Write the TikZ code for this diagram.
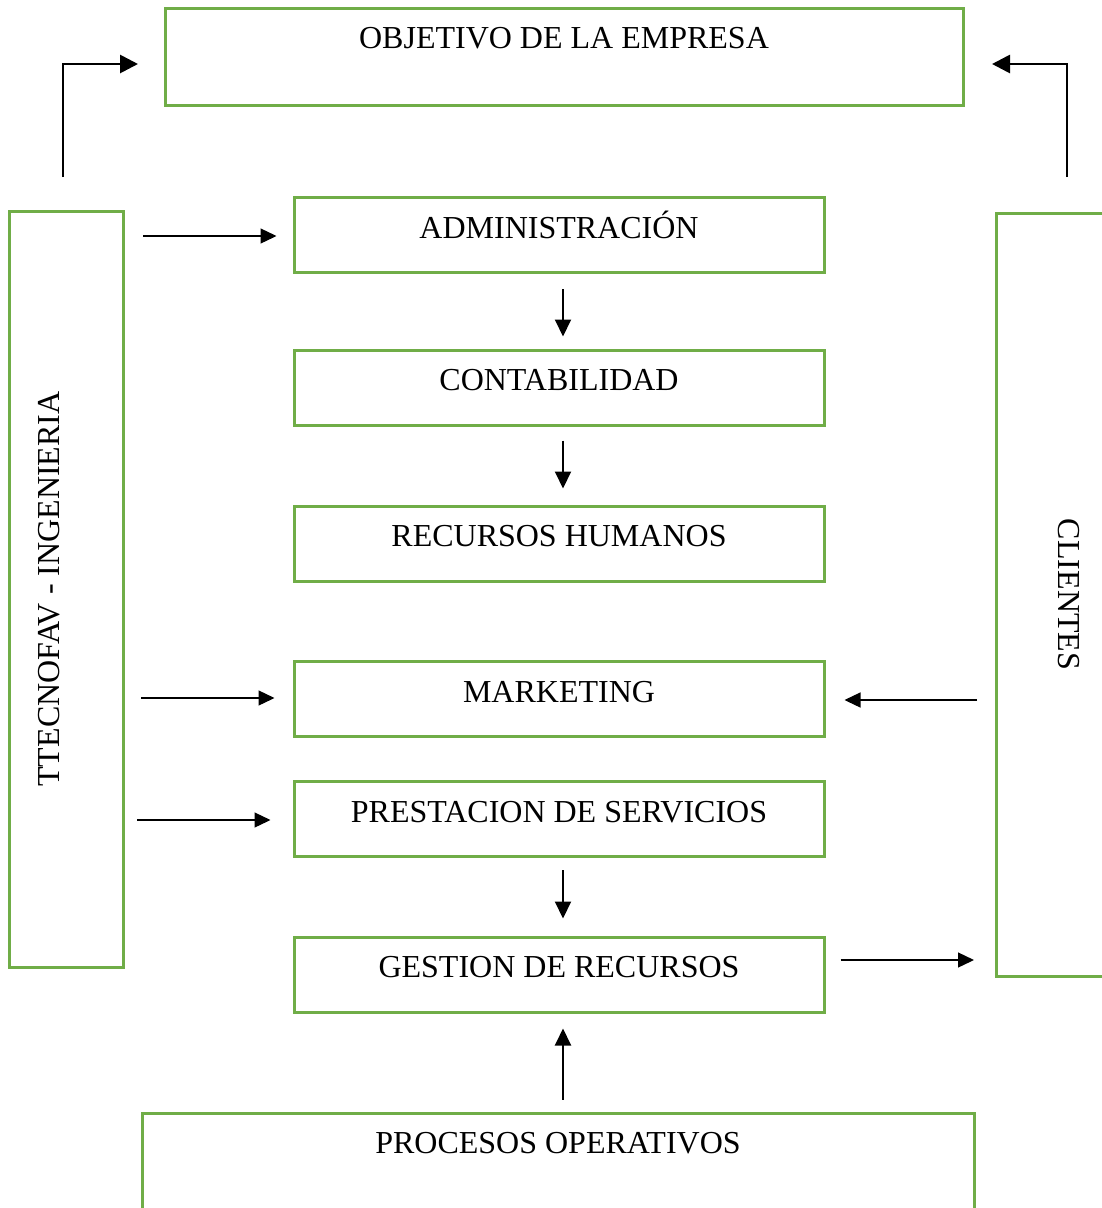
\documentclass[tikz,border=0pt]{standalone}
\usepackage{fontspec}
\setmainfont{Liberation Serif}
\usetikzlibrary{arrows.meta}
\definecolor{boxgreen}{RGB}{112,173,71}
\tikzset{
  area/.style={draw=boxgreen, line width=3pt, inner sep=0pt, text height=40.5pt, font=\fontsize{32}{38}\selectfont},
  dept/.style={area, minimum width=530pt, text depth=34.5pt},
  side/.style={area, minimum width=756pt},
  feed/.style={-{Triangle[length=16pt,width=15pt]}, line width=1.3pt},
  down/.style={-{Triangle[length=17pt,width=16pt]}, line width=2pt},
  elbow/.style={-{Triangle[length=18pt,width=18pt]}, line width=2.8pt}
}
\begin{document}
\begin{tikzpicture}[x=1pt, y=-1pt]
  \clip (0,0) rectangle (1102,1208);
  \fill[white] (0,0) rectangle (1102,1208);

  \node[area, minimum width=798pt, text depth=56.5pt] (obj) at (564,56.5) {OBJETIVO DE LA EMPRESA};
  \node[dept] (adm) at (559,235) {ADMINISTRACIÓN};
  \node[dept] (cont) at (559,387.5) {CONTABILIDAD};
  \node[dept] (rrhh) at (559,543.5) {RECURSOS HUMANOS};
  \node[dept] (mkt) at (559,699) {MARKETING};
  \node[dept] (prest) at (559,819) {PRESTACION DE SERVICIOS};
  \node[dept] (gest) at (559,974.5) {GESTION DE RECURSOS};
  \node[area, minimum width=832pt, text depth=79.5pt] (proc) at (558,1173) {PROCESOS OPERATIVOS};
  \node[side, rotate=90, text height=50pt, text depth=64pt] (tec) at (66,589) {TTECNOFAV - INGENIERIA};
  \node[side, rotate=-90, minimum width=763pt, text height=52pt, text depth=62pt] (cli) at (1053,594.5) {CLIENTES};

  \coordinate (tecup) at (63,177);
  \coordinate (objl) at (138,64);
  \coordinate (cliup) at (1067,177);
  \coordinate (objr) at (992,64);
  \coordinate (ta) at (143,236);
  \coordinate (tm) at (141,698);
  \coordinate (cm) at (977,700);
  \coordinate (tp) at (137,820);
  \coordinate (cg) at (974,960);

  \draw[elbow] (tecup) |- (objl);
  \draw[elbow] (cliup) |- (objr);

  \draw[feed, shorten >=16pt] (ta) -- (ta -| adm.west);
  \draw[feed, shorten >=18pt] (tm) -- (tm -| mkt.west);
  \draw[feed, shorten >=19pt] (cm) -- (cm -| mkt.east);
  \draw[feed, shorten >=22pt] (tp) -- (tp -| prest.west);
  \draw[feed, shorten <=15pt] (cg -| gest.east) -- (cg);

  \draw[down, shorten <=15pt, shorten >=12pt] ([xshift=4pt]adm.south) -- ([xshift=4pt]cont.north);
  \draw[down, shorten <=14pt, shorten >=16pt] ([xshift=4pt]cont.south) -- ([xshift=4pt]rrhh.north);
  \draw[down, shorten <=12pt, shorten >=17pt] ([xshift=4pt]prest.south) -- ([xshift=4pt]gest.north);
  \draw[down, shorten <=12pt, shorten >=15pt] ([xshift=5pt]proc.north) -- ([xshift=4pt]gest.south);
\end{tikzpicture}
\end{document}
